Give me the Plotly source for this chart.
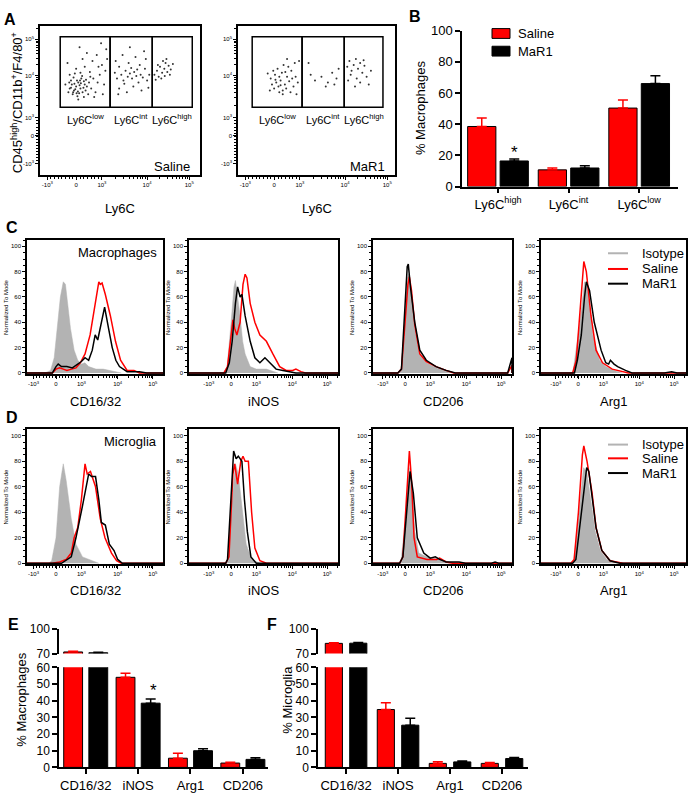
import numpy as np
import plotly.graph_objects as go

W, H = 688, 796
FONT = "Arial, 'Liberation Sans', sans-serif"
RED = "#ff0000"
ISO = "#b3b3b3"

# ---------------- A: Ly6C dot plots (biexponential display units) ----------------
flow_ticks_x = [-0.67, 0, 0.6, 1.65, 2.63]
flow_ticks_y = [-0.72, 0, 0.45, 1.52, 2.45]
flow_ticktext = ["-10<sup>3</sup>", "0", "10<sup>3</sup>", "10<sup>4</sup>", "10<sup>5</sup>"]

saline_dots = [
    (-0.15, 1.20), (-0.10, 1.30), (-0.05, 1.15), (0.00, 1.25), (0.05, 1.35), (0.10, 1.20),
    (0.15, 1.10), (0.20, 1.30), (-0.08, 1.05), (0.02, 1.40), (0.12, 1.45), (0.22, 1.15),
    (-0.12, 1.40), (0.07, 1.08), (0.18, 1.38), (-0.02, 1.18), (0.08, 1.28), (0.25, 1.25),
    (-0.18, 1.10), (0.30, 1.35), (0.03, 1.00), (0.14, 1.52), (-0.06, 1.48), (0.28, 1.05),
    (0.35, 1.20), (0.10, 1.60), (-0.15, 1.55), (0.40, 1.45), (0.32, 1.62), (0.45, 1.10),
    (0.50, 1.35), (0.20, 1.75), (0.00, 1.70), (0.55, 1.55), (0.60, 1.80), (0.38, 1.90),
    (0.48, 2.05), (0.65, 1.30), (0.70, 2.20), (0.25, 2.10), (0.58, 2.35), (0.68, 1.65),
    (-0.20, 1.85), (0.42, 0.98), (0.05, 0.92), (-0.25, 1.30), (0.62, 1.05), (0.72, 1.95),
    (0.15, 1.95), (0.33, 1.50), (-0.03, 1.58), (0.18, 0.98), (0.52, 1.75), (0.08, 2.25),
    (-0.12, 1.22), (-0.04, 1.32), (0.04, 1.12), (0.11, 1.33), (0.17, 1.22), (-0.07, 1.10),
    (0.01, 1.08), (0.09, 1.40), (0.23, 1.42), (-0.16, 1.35),
    (0.90, 1.60), (0.95, 1.45), (1.00, 1.75), (1.05, 1.55), (1.10, 1.40), (1.15, 1.65),
    (1.20, 1.50), (1.25, 1.58), (1.30, 1.45), (1.35, 1.62), (1.40, 1.52), (1.45, 1.35),
    (1.50, 1.55), (1.55, 1.48), (1.60, 1.70), (1.65, 1.40), (1.70, 1.55), (0.92, 1.90),
    (1.08, 2.05), (1.22, 1.85), (1.38, 2.00), (1.48, 1.80), (1.62, 1.95), (1.00, 1.20),
    (1.18, 1.10), (1.33, 1.25), (1.52, 1.15), (1.68, 1.22), (1.12, 1.32), (1.28, 1.72),
    (1.42, 1.68), (0.98, 1.05), (1.58, 2.15), (1.25, 2.25),
    (1.82, 1.55), (1.88, 1.65), (1.92, 1.50), (1.95, 1.75), (2.00, 1.60), (2.05, 1.70),
    (2.08, 1.85), (2.12, 1.62), (2.15, 1.78), (2.18, 1.55), (1.98, 1.45), (2.02, 1.90),
    (2.10, 1.95), (1.90, 1.80), (2.20, 1.68), (2.06, 1.52), (1.85, 1.42), (2.25, 1.82),
]
mar1_dots = [
    (-0.05, 1.30), (0.00, 1.20), (0.05, 1.35), (0.10, 1.25), (0.15, 1.40), (0.20, 1.15),
    (0.25, 1.30), (0.30, 1.50), (-0.08, 1.45), (0.02, 1.55), (0.12, 1.10), (0.18, 1.60),
    (0.28, 1.20), (0.35, 1.38), (0.40, 1.65), (0.45, 1.25), (0.50, 1.50), (0.08, 1.70),
    (-0.10, 1.15), (0.22, 1.80), (0.38, 1.10), (0.48, 1.85), (0.55, 1.35), (0.15, 1.28),
    (0.03, 1.42), (0.26, 1.62), (0.33, 1.75), (-0.02, 1.65), (0.42, 1.45), (0.12, 1.50),
    (0.58, 1.90), (0.20, 1.05), (-0.15, 1.58), (0.30, 1.95), (0.52, 1.05),
    (0.80, 1.85), (0.95, 1.40), (1.10, 1.50), (1.25, 1.35), (1.35, 1.60), (1.45, 1.45),
    (1.50, 1.70), (1.20, 1.25), (0.85, 1.55), (1.40, 1.30),
    (1.70, 1.75), (1.75, 1.90), (1.80, 1.65), (1.85, 1.80), (1.90, 1.95), (1.95, 1.70),
    (2.00, 1.85), (2.05, 1.60), (2.10, 1.78), (2.15, 1.50), (1.72, 1.40), (1.88, 1.25),
    (2.00, 1.35), (2.20, 1.30), (1.78, 1.55), (2.08, 1.92), (1.92, 1.45), (2.25, 1.65),
]
saline_gate_x = [-0.37, 0.79, 1.77, 2.70]
mar1_gate_x = [-0.51, 0.65, 1.63, 2.53]
gate_y = [0.72, 2.52]
gate_names = ["Ly6C<sup>low</sup>", "Ly6C<sup>int</sup>", "Ly6C<sup>high</sup>"]

# ---------------- B: Ly6C subsets ----------------
ly6c_groups = ["Ly6C<sup>high</sup>", "Ly6C<sup>int</sup>", "Ly6C<sup>low</sup>"]
b_saline = [38.5, 10.7, 50.3]
b_saline_sem = [5.5, 1.2, 5.2]
b_mar1 = [16.4, 11.9, 66.0]
b_mar1_sem = [1.2, 1.5, 5.0]

# ---------------- C / D: histograms (x in display units, y = % of mode) ----------------
hist_ticks = [-0.62, 0, 0.7, 1.7, 2.67]
markers = ["CD16/32", "iNOS", "CD206", "Arg1"]

mac_cd1632_iso = [(-0.3, 0), (-0.15, 2), (-0.05, 12), (0.05, 38), (0.12, 60), (0.2, 72), (0.26, 70), (0.32, 55),
                  (0.4, 35), (0.5, 18), (0.6, 10), (0.7, 7), (0.8, 8), (0.9, 5), (1.1, 3), (1.3, 3), (1.5, 2), (1.8, 0)]
mac_cd1632_sal = [(-0.1, 0), (0.0, 3), (0.1, 4), (0.2, 3), (0.3, 2), (0.43, 3), (0.55, 4), (0.67, 8), (0.8, 15),
                  (0.94, 30), (1.08, 55), (1.18, 72), (1.22, 70), (1.27, 71), (1.36, 62), (1.5, 45), (1.64, 25),
                  (1.78, 10), (1.96, 2), (2.15, 2), (2.3, 0)]
mac_cd1632_mar = [(-0.1, 0), (0.0, 5), (0.06, 7), (0.15, 5), (0.3, 5), (0.45, 4), (0.6, 7), (0.7, 9), (0.8, 12),
                  (0.9, 10), (1.0, 18), (1.08, 30), (1.15, 26), (1.25, 40), (1.34, 52), (1.45, 35), (1.55, 20),
                  (1.65, 10), (1.75, 5), (1.96, 1), (2.3, 1), (2.5, 0)]

mac_inos_iso = [(-0.2, 0), (-0.11, 5), (0.0, 40), (0.08, 68), (0.12, 73), (0.18, 60), (0.25, 45), (0.32, 25),
                (0.39, 15), (0.53, 5), (0.7, 3), (0.98, 3), (1.1, 2), (1.3, 0)]
mac_inos_sal = [(-0.2, 0), (-0.1, 5), (0.0, 30), (0.05, 42), (0.1, 35), (0.16, 30), (0.25, 40), (0.33, 70),
                (0.39, 78), (0.44, 75), (0.53, 55), (0.66, 40), (0.8, 30), (0.98, 25), (1.16, 15), (1.35, 5),
                (1.53, 2), (1.71, 2), (1.8, 3), (1.94, 1), (2.07, 0)]
mac_inos_mar = [(-0.15, 0), (-0.05, 8), (0.03, 25), (0.12, 55), (0.18, 68), (0.25, 60), (0.3, 62), (0.39, 45),
                (0.53, 25), (0.66, 12), (0.8, 8), (0.94, 12), (1.07, 8), (1.25, 3), (1.44, 2), (1.62, 1), (1.8, 0)]

mac_cd206_iso = [(-0.2, 0), (-0.1, 3), (0.0, 40), (0.07, 75), (0.1, 78), (0.15, 68), (0.27, 35), (0.41, 14),
                 (0.59, 8), (0.86, 4), (1.14, 2), (1.3, 0)]
mac_cd206_sal = [(-0.2, 0), (-0.1, 3), (0.0, 40), (0.08, 70), (0.12, 76), (0.18, 65), (0.27, 38), (0.41, 15),
                 (0.59, 9), (0.86, 5), (1.14, 2), (1.35, 0), (2.85, 0), (2.92, 4), (2.97, 6)]
mac_cd206_mar = [(-0.2, 0), (-0.1, 3), (0.0, 50), (0.06, 84), (0.09, 86), (0.15, 68), (0.27, 40), (0.41, 18),
                 (0.59, 10), (0.86, 5), (1.14, 2), (1.4, 0), (2.85, 0), (2.92, 8), (2.97, 12)]

mac_arg1_iso = [(-0.2, 0), (-0.14, 1), (0.05, 40), (0.18, 72), (0.27, 65), (0.41, 30), (0.6, 10), (0.77, 5),
                (1.0, 2), (1.23, 0)]
mac_arg1_sal = [(-0.15, 0), (-0.05, 10), (0.05, 50), (0.12, 80), (0.16, 88), (0.23, 80), (0.36, 45), (0.5, 18),
                (0.68, 8), (0.95, 3), (1.23, 1), (1.4, 0)]
mac_arg1_mar = [(-0.1, 0), (-0.02, 10), (0.09, 30), (0.18, 60), (0.23, 72), (0.32, 65), (0.45, 40), (0.64, 18),
                (0.77, 8), (0.85, 7), (0.9, 10), (1.0, 7), (1.1, 5), (1.32, 2), (1.5, 0), (2.4, 0), (2.6, 1),
                (2.75, 0)]

mg_cd1632_iso = [(-0.2, 0), (-0.12, 2), (0.0, 20), (0.1, 60), (0.2, 78), (0.28, 65), (0.42, 35), (0.55, 15),
                 (0.73, 5), (1.0, 2), (1.18, 0)]
mg_cd1632_sal = [(-0.1, 0), (0.1, 1), (0.28, 3), (0.42, 8), (0.5, 20), (0.6, 28), (0.7, 50), (0.8, 78),
                 (0.86, 70), (0.95, 72), (1.09, 60), (1.22, 35), (1.35, 20), (1.53, 8), (1.67, 2), (1.8, 0)]
mg_cd1632_mar = [(0.15, 0), (0.42, 5), (0.55, 20), (0.73, 45), (0.9, 70), (0.98, 68), (1.09, 68), (1.18, 50),
                 (1.25, 32), (1.36, 30), (1.47, 15), (1.6, 10), (1.7, 3), (1.83, 0)]

mg_inos_iso = [(-0.2, 0), (-0.1, 2), (0.03, 50), (0.12, 78), (0.2, 70), (0.3, 45), (0.42, 15), (0.57, 3), (0.8, 0)]
mg_inos_sal = [(-0.15, 0), (-0.06, 5), (0.05, 70), (0.1, 78), (0.18, 62), (0.27, 80), (0.33, 84), (0.39, 80),
               (0.48, 80), (0.57, 40), (0.66, 12), (0.8, 2), (0.98, 0)]
mg_inos_mar = [(-0.15, 0), (-0.1, 3), (0.01, 60), (0.07, 88), (0.14, 82), (0.2, 84), (0.3, 80), (0.37, 50),
               (0.45, 25), (0.55, 5), (0.7, 0)]

mg_cd206_iso = [(-0.2, 0), (-0.11, 2), (0.03, 40), (0.12, 75), (0.18, 65), (0.27, 25), (0.38, 8), (0.61, 5),
                (0.96, 3), (1.23, 1), (1.5, 0)]
mg_cd206_sal = [(-0.15, 0), (-0.06, 5), (0.07, 60), (0.12, 88), (0.18, 65), (0.25, 20), (0.34, 5), (0.61, 3),
                (0.88, 3), (0.96, 4), (1.14, 1), (1.32, 0)]
mg_cd206_mar = [(-0.15, 0), (-0.06, 5), (0.05, 45), (0.14, 72), (0.23, 55), (0.34, 20), (0.52, 8), (0.7, 4),
                (0.84, 5), (0.96, 3), (1.14, 1), (1.5, 1), (1.68, 0), (2.4, 0), (2.5, 1), (2.6, 0)]

mg_arg1_iso = [(-0.2, 0), (-0.11, 2), (0.03, 40), (0.15, 75), (0.24, 72), (0.35, 50), (0.48, 25), (0.62, 10),
               (0.8, 3), (1.07, 1), (1.25, 0)]
mg_arg1_sal = [(-0.2, 0), (-0.11, 3), (0.01, 40), (0.12, 85), (0.16, 92), (0.25, 80), (0.39, 55), (0.5, 28),
               (0.66, 10), (0.89, 2), (1.25, 0)]
mg_arg1_mar = [(-0.15, 0), (-0.06, 3), (0.05, 30), (0.16, 60), (0.24, 75), (0.3, 72), (0.39, 50), (0.5, 28),
               (0.66, 10), (0.89, 2), (1.16, 0)]

mac_hists = [(mac_cd1632_iso, mac_cd1632_sal, mac_cd1632_mar), (mac_inos_iso, mac_inos_sal, mac_inos_mar),
             (mac_cd206_iso, mac_cd206_sal, mac_cd206_mar), (mac_arg1_iso, mac_arg1_sal, mac_arg1_mar)]
mg_hists = [(mg_cd1632_iso, mg_cd1632_sal, mg_cd1632_mar), (mg_inos_iso, mg_inos_sal, mg_inos_mar),
            (mg_cd206_iso, mg_cd206_sal, mg_cd206_mar), (mg_arg1_iso, mg_arg1_sal, mg_arg1_mar)]

# ---------------- E / F: % positive ----------------
ef_groups = ["CD16/32", "iNOS", "Arg1", "CD206"]
e_saline = [72.0, 54.0, 5.5, 2.6]
e_saline_sem = [0.8, 2.5, 3.0, 0.5]
e_mar1 = [71.0, 38.5, 10.0, 4.8]
e_mar1_sem = [0.5, 2.5, 1.2, 1.0]
f_saline = [82.5, 34.7, 2.4, 2.4]
f_saline_sem = [0.8, 4.1, 1.0, 0.6]
f_mar1 = [82.7, 25.3, 3.3, 5.3]
f_mar1_sem = [0.8, 4.1, 0.6, 0.6]

# ================= layout helpers =================
fig = go.Figure()
axes = {}
count = [0]
ann = []
shapes = []


def add_axes(box, xr, yr, xkw, ykw):
    count[0] += 1
    s = "" if count[0] == 1 else str(count[0])
    x0, y0, x1, y1 = box
    axes["xaxis" + s] = dict(domain=[x0 / W, x1 / W], range=xr, anchor="y" + s, **xkw)
    axes["yaxis" + s] = dict(domain=[1 - y1 / H, 1 - y0 / H], range=yr, anchor="x" + s, **ykw)
    return "x" + s, "y" + s


def text(x, y, s, size, xanchor="center", **kw):
    ann.append(dict(x=x / W, y=1 - y / H, xref="paper", yref="paper", text=s, showarrow=False,
                    xanchor=xanchor, yanchor="middle",
                    font=dict(size=size, family=FONT, color="black"), **kw))


def flow_minor(t):
    vals = list(np.linspace(t[0], t[2], 16)[1:-1])
    for a, b in ((t[2], t[3]), (t[3], t[4])):
        vals += [a + np.log10(m) * (b - a) for m in range(2, 10)]
    vals += [t[4] + np.log10(m) * (t[4] - t[3]) for m in range(2, 4)]
    return vals


def flow_axis(tickvals, ticktext, size):
    return dict(showgrid=False, zeroline=False, showline=True, mirror=True, linecolor="black", linewidth=1.5,
                ticks="outside", ticklen=3, tickwidth=1, tickcolor="black", tickmode="array",
                tickvals=tickvals, ticktext=ticktext, tickfont=dict(size=size, color="black", family=FONT),
                minor=dict(tickmode="array", tickvals=flow_minor(tickvals), ticks="outside", ticklen=2,
                           tickwidth=1, tickcolor="black"))


def bar_axis(size=13, **kw):
    d = dict(showgrid=False, zeroline=False, showline=True, linecolor="black", linewidth=1.5, ticks="outside",
             ticklen=5, tickwidth=1.5, tickcolor="black", tickfont=dict(size=size, color="black", family=FONT))
    d.update(kw)
    return d


# ================= A =================
a_panels = [("Saline", saline_dots, saline_gate_x, (40, 19, 200, 171), [-0.84, 2.88], 120),
            ("MaR1", mar1_dots, mar1_gate_x, (238, 19, 395, 171), [-0.84, 2.81], 317)]
for name, dots, gx, box, xr, cx in a_panels:
    xa, ya = add_axes(box, xr, [-1.0, 2.8], flow_axis(flow_ticks_x, flow_ticktext, 6),
                      flow_axis(flow_ticks_y, flow_ticktext, 6))
    fig.add_trace(go.Scatter(x=[d[0] for d in dots], y=[d[1] for d in dots], mode="markers", xaxis=xa, yaxis=ya,
                             marker=dict(size=2, color="#333333"), showlegend=False))
    for i in range(3):
        shapes.append(dict(type="rect", xref=xa, yref=ya, x0=gx[i], x1=gx[i + 1], y0=gate_y[0], y1=gate_y[1],
                           line=dict(color="black", width=1.5)))
        ann.append(dict(x=(gx[i] + gx[i + 1]) / 2, y=gate_y[0] - 0.08, xref=xa, yref=ya, text=gate_names[i],
                        showarrow=False, xanchor="center", yanchor="top",
                        font=dict(size=11, family=FONT, color="black")))
    text(box[2] - 8, 163, name, 13, xanchor="right")
    text(cx, 205, "Ly6C", 13)
text(17, 98, "CD45<sup>high</sup>/CD11b<sup>+</sup>/F4/80<sup>+</sup>", 13, textangle=-90)

# ================= B =================
xa, ya = add_axes((462, 24, 678, 183), [-0.51, 2.55], [0, 100],
                  bar_axis(tickmode="array", tickvals=[0, 1, 2], ticktext=ly6c_groups),
                  bar_axis(tickmode="array", tickvals=[0, 20, 40, 60, 80, 100]))
for vals, sem, col, off in ((b_saline, b_saline_sem, RED, -0.43), (b_mar1, b_mar1_sem, "black", 0.03)):
    fig.add_trace(go.Bar(x=[0, 1, 2], y=vals, width=0.4, offset=off, xaxis=xa, yaxis=ya, showlegend=False,
                         marker=dict(color=col, line=dict(color="black", width=1)),
                         error_y=dict(type="data", symmetric=False, array=sem, arrayminus=[0] * len(sem),
                                      color=col, thickness=1.5, width=5)))
text(420, 103, "% Macrophages", 13, textangle=-90)
for yy, col, lab in ((27, RED, "Saline"), (45, "black", "MaR1")):
    shapes.append(dict(type="rect", xref="paper", yref="paper", x0=492 / W, x1=510 / W, y0=1 - (yy + 5) / H,
                       y1=1 - (yy - 5) / H, fillcolor=col, line=dict(color="black", width=1)))
    text(516, yy, lab, 13, xanchor="left")
text(514, 148, "*", 17)

# ================= C / D =================
hist_x_px = [(27, 163), (189, 338), (373, 512), (541, 686)]
hist_x_ranges = [[-0.8, 2.95], [-1.17, 2.97], [-0.89, 2.97], [-1.03, 3.0]]
rows = [(mac_hists, (237, 374.5), [-1.2, 105.4], 402, "Macrophages", 250, (251, 267, 282)),
        (mg_hists, (430, 568), [-0.8, 105.4], 595, "Microglia", 443, (446, 460, 475))]
for hists, (top, bot), yr, title_y, cell, cell_y, leg_y in rows:
    for k, (iso, sal, mar) in enumerate(hists):
        x0, x1 = hist_x_px[k]
        xr = hist_x_ranges[k]
        yax = flow_axis([0, 20, 40, 60, 80, 100], ["0", "20", "40", "60", "80", "100"], 6)
        yax["minor"] = dict(dtick=5, tick0=0, ticks="outside", ticklen=2, tickwidth=1, tickcolor="black")
        xa, ya = add_axes((x0, top, x1, bot), xr, yr, flow_axis(hist_ticks, flow_ticktext, 6), yax)
        fig.add_trace(go.Scatter(x=[p[0] for p in iso], y=[p[1] for p in iso], mode="lines", fill="tozeroy",
                                 fillcolor=ISO, line=dict(color=ISO, width=0.5), xaxis=xa, yaxis=ya,
                                 showlegend=False))
        for curve, col in ((sal, RED), (mar, "black")):
            fig.add_trace(go.Scatter(x=[xr[0]] + [p[0] for p in curve] + [xr[1]],
                                     y=[0] + [p[1] for p in curve] + [0], mode="lines",
                                     line=dict(color=col, width=1.5), xaxis=xa, yaxis=ya, showlegend=False))
        text((x0 + x1) / 2, title_y, markers[k], 13)
        text(x0 - 21, (top + bot) / 2, "Normalized To Mode", 6, textangle=-90)
    text(159, cell_y, cell, 13, xanchor="right")
    for yy, col, lab in zip(leg_y, (ISO, RED, "black"), ("Isotype", "Saline", "MaR1")):
        shapes.append(dict(type="line", xref="paper", yref="paper", x0=608 / W, x1=628 / W, y0=1 - yy / H,
                           y1=1 - yy / H, line=dict(color=col, width=2)))
        text(640, yy, lab, 13, xanchor="left")

# ================= E / F =================
ef_panels = [(e_saline, e_saline_sem, e_mar1, e_mar1_sem, (59, 268), [-0.51, 3.48], 0.36, -0.42, 0.06,
              "% Macrophages", 22),
             (f_saline, f_saline_sem, f_mar1, f_mar1_sem, (318, 528), [-0.54, 3.5], 0.33, -0.40, 0.07,
              "% Microglia", 288)]
for sal, sal_sem, mar, mar_sem, (x0, x1), xr, bw, off_s, off_m, title, tx in ef_panels:
    xa, ya = add_axes((x0, 673, x1, 775), xr, [0, 60],
                      bar_axis(tickmode="array", tickvals=[0, 1, 2, 3], ticktext=ef_groups),
                      bar_axis(size=12, tickmode="array", tickvals=[0, 10, 20, 30, 40, 50, 60]))
    xb, yb = add_axes((x0, 634, x1, 659), xr, [70, 100], dict(visible=False),
                      bar_axis(size=12, tickmode="array", tickvals=[70, 100]))
    for vals, sem, col, off in ((sal, sal_sem, RED, off_s), (mar, mar_sem, "black", off_m)):
        low_sem = [0 if v > 60 else s for v, s in zip(vals, sem)]
        fig.add_trace(go.Bar(x=[0, 1, 2, 3], y=vals, width=bw, offset=off, xaxis=xa, yaxis=ya, showlegend=False,
                             marker=dict(color=col, line=dict(color="black", width=1)),
                             error_y=dict(type="data", symmetric=False, array=low_sem,
                                          arrayminus=[0] * len(vals), color=col, thickness=1.5, width=5)))
        fig.add_trace(go.Bar(x=[0, 1, 2, 3], y=[v if v > 70 else None for v in vals], base=0, width=bw,
                             offset=off, xaxis=xb, yaxis=yb, showlegend=False,
                             marker=dict(color=col, line=dict(color="black", width=1)),
                             error_y=dict(type="data", symmetric=False, array=sem,
                                          arrayminus=[0] * len(vals), color=col, thickness=1.5, width=5)))
    text(tx, 706, title, 13, textangle=-90)
text(153, 697, "*", 17)

# ================= panel letters =================
for lab, x, y in (("A", 10, 13), ("B", 415, 10), ("C", 12, 225), ("D", 12, 418), ("E", 13, 629), ("F", 272, 629)):
    text(x, y, "<b>%s</b>" % lab, 16)

fig.update_layout(width=W, height=H, margin=dict(l=0, r=0, t=0, b=0), paper_bgcolor="white",
                  plot_bgcolor="white", barmode="overlay", font=dict(family=FONT, color="black"),
                  annotations=ann, shapes=shapes, showlegend=False, **axes)
fig.write_html("out.html", config={"displayModeBar": False},
               post_script="document.body.style.margin='0px';")
